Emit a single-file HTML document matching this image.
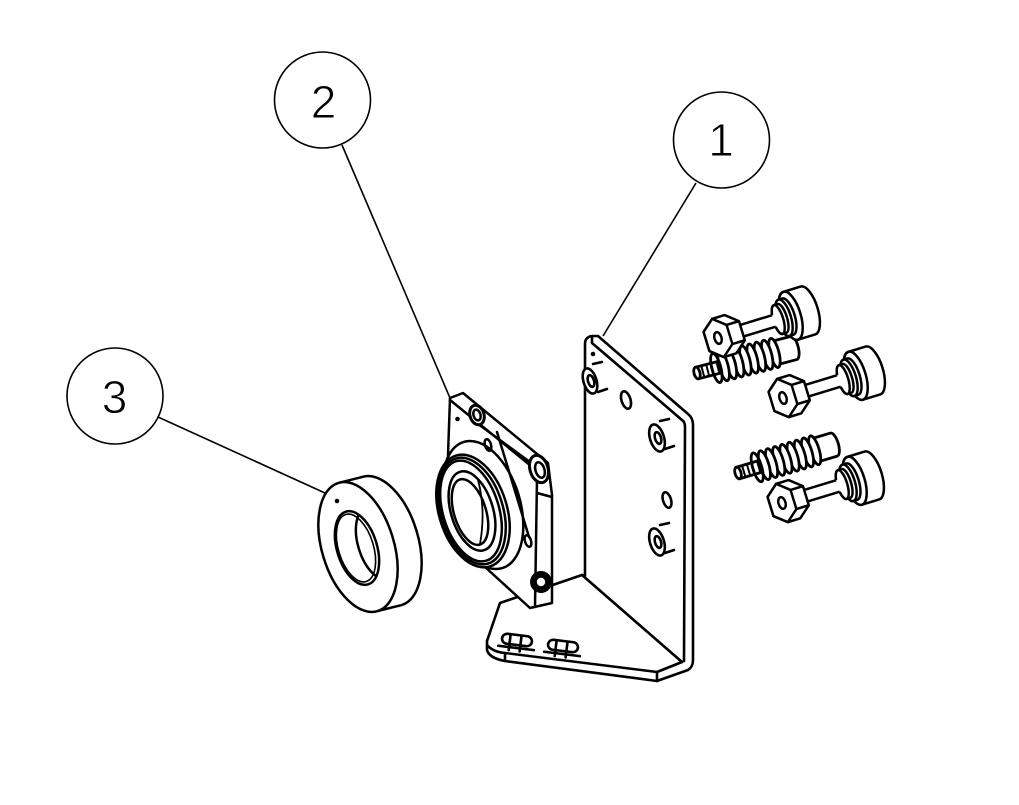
<!DOCTYPE html>
<html><head><meta charset="utf-8"><style>
html,body{margin:0;padding:0;background:#fff;width:1019px;height:805px;overflow:hidden}
svg{display:block}
</style></head><body>
<svg xmlns="http://www.w3.org/2000/svg" width="1019" height="805" viewBox="0 0 1019 805">
<defs>
<g id="bolt" fill="#fff" stroke="#000" stroke-width="2.5" stroke-linejoin="round">
  <path d="M76,-25 L94,-25 A10,25 0 0 1 94,25 L76,25 A10,25 0 0 1 76,-25 Z"/>
  <ellipse cx="76" cy="0" rx="10" ry="25"/>
  <path d="M69,-19 L73,-19 A7,19 0 0 1 73,19 L69,19 A7,19 0 0 1 69,-19 Z"/>
  <ellipse cx="69" cy="0" rx="7" ry="19"/>
  <path d="M63,-15 L67,-15 A5,15 0 0 1 67,15 L63,15 A5,15 0 0 1 63,-15 Z"/>
  <ellipse cx="63" cy="0" rx="5" ry="15"/>
  <path d="M22,-6 L60,-6 L60,6 L22,6 Z" stroke="none"/>
  <path d="M22,-6 L58.5,-6 M22,6 L58.5,6" fill="none"/>
  <path d="M-12,-10 L0,-20 L13,-20 L25,-10 L25,10 L13,20 L0,20 L-12,10 Z"/>
  <path d="M0,-20 L12,-10 L12,10 L0,20 L-12,10 L-12,-10 Z"/>
  <path d="M12,-10 L25,-10 M12,10 L25,10" fill="none"/>
  <ellipse cx="0" cy="0" rx="3.5" ry="6"/>
</g>
<g id="spring" fill="#fff" stroke="#000" stroke-width="2.8" stroke-linejoin="round">
  <path d="M80,-12 L100,-12 A4.5,12 0 0 1 100,12 L80,12 Z"/>
  <ellipse cx="80" cy="0" rx="4.5" ry="15"/>
  <ellipse cx="72.5" cy="0" rx="4.5" ry="15"/>
  <ellipse cx="65" cy="0" rx="4.5" ry="15"/>
  <ellipse cx="57.5" cy="0" rx="4.5" ry="15"/>
  <ellipse cx="50" cy="0" rx="4.5" ry="15"/>
  <ellipse cx="42.5" cy="0" rx="4.5" ry="15"/>
  <ellipse cx="35" cy="0" rx="4.5" ry="15"/>
  <ellipse cx="27.5" cy="0" rx="4.5" ry="15"/>
  <path d="M0,-6 L22,-6 L22,6 L0,6 Z"/>
  <ellipse cx="0" cy="0" rx="3" ry="6"/>
  <path d="M6,-6 L6,6 M11,-6 L11,6 M16,-6 L16,6" stroke-width="2"/>
  <ellipse cx="20" cy="0" rx="4.5" ry="15" fill="none"/>
</g>
</defs>

<!-- Balloons and leaders -->
<g fill="none" stroke="#000" stroke-width="1.6">
  <circle cx="322.5" cy="100" r="48"/>
  <circle cx="721.5" cy="140" r="48"/>
  <circle cx="115" cy="396" r="48"/>
  <line x1="342" y1="145" x2="450" y2="398"/>
  <line x1="696" y1="183" x2="603" y2="336"/>
  <line x1="158" y1="417" x2="325" y2="493"/>
</g>
<g font-family="'Liberation Sans', sans-serif" font-size="46" text-anchor="middle" fill="#000" stroke="#fff" stroke-width="0.9">
  <text x="323.5" y="118">2</text>
  <text x="721" y="156">1</text>
  <text x="114.5" y="413">3</text>
</g>

<!-- Part 1 : bracket -->
<g stroke="#000" stroke-width="2.6" fill="none" stroke-linejoin="round" stroke-linecap="round">
  <path fill="#fff" d="M585,576 L585,344 Q585,337 592,336 L598,336 L688,414 Q693,418 693,425 L693,660 Q693,667 688,670 L657,681 L505,661 Q489,658 487,650 L487,641 L500,603 L582,575 Z"/>
  <path d="M592,337 L592,343 L682,420 Q685,422 685,427 L684,661"/>
  <path d="M582,575 L682,662"/>
  <path d="M487,645 Q493,652 505,653 L657,672 L682,662"/>
  <path d="M505,653 L505,661 M657,672 L657,681"/>
  <!-- bosses -->
  <ellipse cx="590" cy="381" rx="6.5" ry="13" transform="rotate(-17 590 381)" fill="#fff"/>
  <ellipse cx="591" cy="381" rx="3" ry="6" transform="rotate(-17 591 381)"/>
  <path d="M593,364 L602,362 M598,392 L607,389"/>
  <ellipse cx="657" cy="438" rx="7" ry="14" transform="rotate(-17 657 438)" fill="#fff"/>
  <ellipse cx="658" cy="438" rx="3" ry="6" transform="rotate(-17 658 438)"/>
  <path d="M660,421 L669,419 M665,449 L674,446"/>
  <ellipse cx="657" cy="542" rx="7" ry="14" transform="rotate(-17 657 542)" fill="#fff"/>
  <ellipse cx="658" cy="542" rx="3" ry="6" transform="rotate(-17 658 542)"/>
  <path d="M660,525 L669,523 M665,553 L674,550"/>
  <!-- holes -->
  <ellipse cx="626" cy="400" rx="4.5" ry="9" transform="rotate(-17 626 400)"/>
  <ellipse cx="667" cy="500" rx="4" ry="8" transform="rotate(-17 667 500)"/>
  <!-- slots -->
  <g transform="rotate(7 517 640)">
    <rect x="502" y="635" width="30" height="10" rx="5"/>
    <path d="M499,648 L535,648 M510,636 L510,651 M521,636 L521,651"/>
  </g>
  <g transform="rotate(7 563 646)">
    <rect x="548" y="641" width="30" height="10" rx="5"/>
    <path d="M545,654 L581,654 M556,642 L556,657 M567,642 L567,657"/>
  </g>
</g>

<!-- Part 2 : housing -->
<g stroke="#000" stroke-width="2.5" fill="none" stroke-linejoin="round" stroke-linecap="round">
  <path fill="#fff" d="M450,398 L463,393 L548,463 L552,495 L552,603 L530,608 L485,567 L448,455 Z"/>
  <path d="M450,400 L536,470 M474,421 L534,465 M537,478 L535,607 M537,493 L552,497"/>
  <ellipse cx="483" cy="505" rx="37" ry="66" transform="rotate(-17 483 505)" fill="#fff"/>
  <line x1="497" y1="432" x2="529" y2="537"/>
  <ellipse cx="473" cy="511" rx="34" ry="58" transform="rotate(-17 473 511)" fill="#fff"/>
  <ellipse cx="472" cy="511" rx="31" ry="55" transform="rotate(-17 472 511)"/>
  <ellipse cx="471" cy="511" rx="28" ry="52" transform="rotate(-17 471 511)"/>
  <ellipse cx="472" cy="511" rx="21" ry="41" transform="rotate(-17 472 511)"/>
  <ellipse cx="470" cy="512" rx="16" ry="34" transform="rotate(-17 470 512)" fill="#fff"/>
  <path d="M478,480 Q486,510 480,544" stroke-width="1.8"/>
  <ellipse cx="477" cy="415" rx="7" ry="10" transform="rotate(-17 477 415)" fill="#fff" stroke-width="3"/>
  <ellipse cx="477" cy="415" rx="3.5" ry="5.5" transform="rotate(-17 477 415)"/>
  <ellipse cx="488" cy="445" rx="3" ry="6" transform="rotate(-17 488 445)"/>
  <ellipse cx="539" cy="469" rx="9" ry="14" transform="rotate(-17 539 469)" fill="#fff" stroke-width="3"/>
  <ellipse cx="540" cy="470" rx="4.5" ry="8" transform="rotate(-17 540 470)"/>
  <ellipse cx="528" cy="541" rx="3" ry="6" transform="rotate(-17 528 541)"/>
  <circle cx="541" cy="582" r="8" fill="#fff" stroke-width="6" stroke-dasharray="0.8 1.4"/>
  <circle cx="541" cy="582" r="5" stroke-width="1.6"/>
</g>

<!-- Part 3 : ring -->
<g stroke="#000" stroke-width="2.5" fill="none" stroke-linejoin="round">
  <ellipse cx="382" cy="541" rx="36" ry="67" transform="rotate(-17 382 541)" fill="#fff"/>
  <path d="M339.4,482.7 L363.4,476.7 L400.6,605.3 L376.6,611.3 Z" fill="#fff" stroke="none"/>
  <path d="M339.4,482.7 L363.4,476.7 M376.6,611.3 L400.6,605.3"/>
  <ellipse cx="358" cy="547" rx="36" ry="67" transform="rotate(-17 358 547)" fill="#fff"/>
  <clipPath id="holeclip"><ellipse cx="357" cy="548" rx="20" ry="38" transform="rotate(-17 357 548)"/></clipPath>
  <ellipse cx="357" cy="548" rx="20" ry="38" transform="rotate(-17 357 548)"/>
  <ellipse cx="356" cy="548" rx="17.5" ry="35" transform="rotate(-17 356 548)" stroke-width="1.6"/>
  <g clip-path="url(#holeclip)">
    <ellipse cx="378" cy="543" rx="20" ry="38" transform="rotate(-17 378 543)"/>
  </g>
</g>

<!-- springs and bolts -->
<use href="#spring" transform="translate(697,373) rotate(-14.5)"/>
<use href="#spring" transform="translate(738,473) rotate(-16.5)"/>
<use href="#bolt" transform="translate(718,338) rotate(-17)"/>
<use href="#bolt" transform="translate(783,398) rotate(-17)"/>
<use href="#bolt" transform="translate(782,503) rotate(-17)"/>

<!-- leader dots -->
<g fill="#000">
  <circle cx="457.5" cy="419" r="2.3"/>
  <circle cx="593" cy="354" r="2.3"/>
  <circle cx="337" cy="501" r="2.3"/>
</g>
</svg>
</body></html>
